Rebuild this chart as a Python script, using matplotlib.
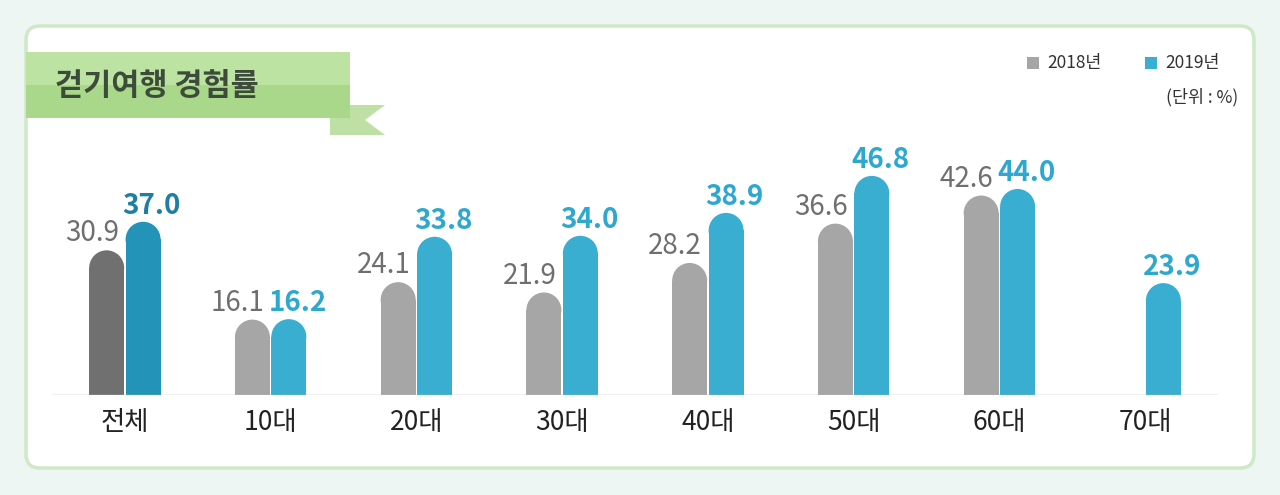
import matplotlib
matplotlib.use("Agg")
import matplotlib.pyplot as plt
from matplotlib.patches import Rectangle, Ellipse, FancyBboxPatch, Polygon
import numpy as np

plt.rcParams['font.family'] = ['Noto Sans CJK KR', 'DejaVu Sans']

categories = ["전체", "10대", "20대", "30대", "40대", "50대", "60대", "70대"]
v2018 = [30.9, 16.1, 24.1, 21.9, 28.2, 36.6, 42.6, None]
v2019 = [37.0, 16.2, 33.8, 34.0, 38.9, 46.8, 44.0, 23.9]
series_names = ["2018년", "2019년"]
unit_text = "(단위 : %)"
title = "걷기여행 경험률"

W, H = 1280, 495
fig = plt.figure(figsize=(12.8, 4.95), dpi=100)
fig.patch.set_facecolor("#eef6f4")

bg = fig.add_axes([0, 0, 1, 1]); bg.set_xlim(0, W); bg.set_ylim(H, 0); bg.axis("off")
bg.add_patch(FancyBboxPatch((26, 26), 1228, 442, boxstyle="round,pad=0,rounding_size=14",
                            fc="white", ec="#cfe8c6", lw=2.5))
bg.add_patch(Polygon([[330, 105], [385, 105], [365, 120], [385, 135], [330, 135]], closed=True,
                     fc="#bfe0a4", ec="none"))
bg.add_patch(Polygon([[26, 52], [350, 52], [350, 118], [26, 118]], closed=True, fc="#a9d88a", ec="none"))
bg.add_patch(Polygon([[26, 52], [350, 52], [350, 85], [26, 85]], closed=True, fc="#bde3a3", ec="none"))
bg.text(55, 86, title, fontsize=22, fontweight="bold", color="#3d4b3b", va="center", ha="left")
bg.add_patch(Rectangle((1027, 57), 12, 12, fc="#a6a6a6", ec="none"))
bg.text(1047, 63, series_names[0], fontsize=12.5, color="#333333", va="center")
bg.add_patch(Rectangle((1145, 57), 12, 12, fc="#3aaed0", ec="none"))
bg.text(1165, 63, series_names[1], fontsize=12.5, color="#333333", va="center")
bg.text(1238, 97, unit_text, fontsize=12.5, color="#333333", va="center", ha="right")

ax = fig.add_axes([52 / W, (H - 395) / H, 1166 / W, 265 / H])
ax.set_xlim(-0.5, len(categories) - 0.5)
ax.set_ylim(0, 56.6)
ax.axis("off")
ax.patch.set_alpha(0)

bw = 0.24
cap = 7.5
off = 0.125
x = np.arange(len(categories))

def rbar(xc, v, color):
    ax.add_patch(Rectangle((xc - bw / 2, 0), bw, v - cap / 2, fc=color, ec="none"))
    ax.add_patch(Ellipse((xc, v - cap / 2), bw, cap, fc=color, ec="none"))

for i, c in enumerate(categories):
    if v2018[i] is not None:
        col = "#707070" if i == 0 else "#a6a6a6"
        rbar(x[i] - off, v2018[i], col)
        ax.text(x[i] - off - 0.1, v2018[i] + 0.4, f"{v2018[i]:.1f}", ha="center", va="bottom",
                fontsize=20, color="#6f6f6f")
    col = "#2394b8" if i == 0 else "#3aaed0"
    rbar(x[i] + off, v2019[i], col)
    ax.text(x[i] + off + 0.06, v2019[i] + 0.4, f"{v2019[i]:.1f}", ha="center", va="bottom",
            fontsize=20, fontweight="bold", color="#1f7ea6" if i == 0 else "#2fa8d0")
    ax.text(x[i], -3.0, c, ha="center", va="top", fontsize=19, color="#222222")

ax.plot([-0.5, len(categories) - 0.5], [0, 0], color="#bbbbbb", lw=1)

fig.savefig("out.png", dpi=100, facecolor=fig.get_facecolor())
